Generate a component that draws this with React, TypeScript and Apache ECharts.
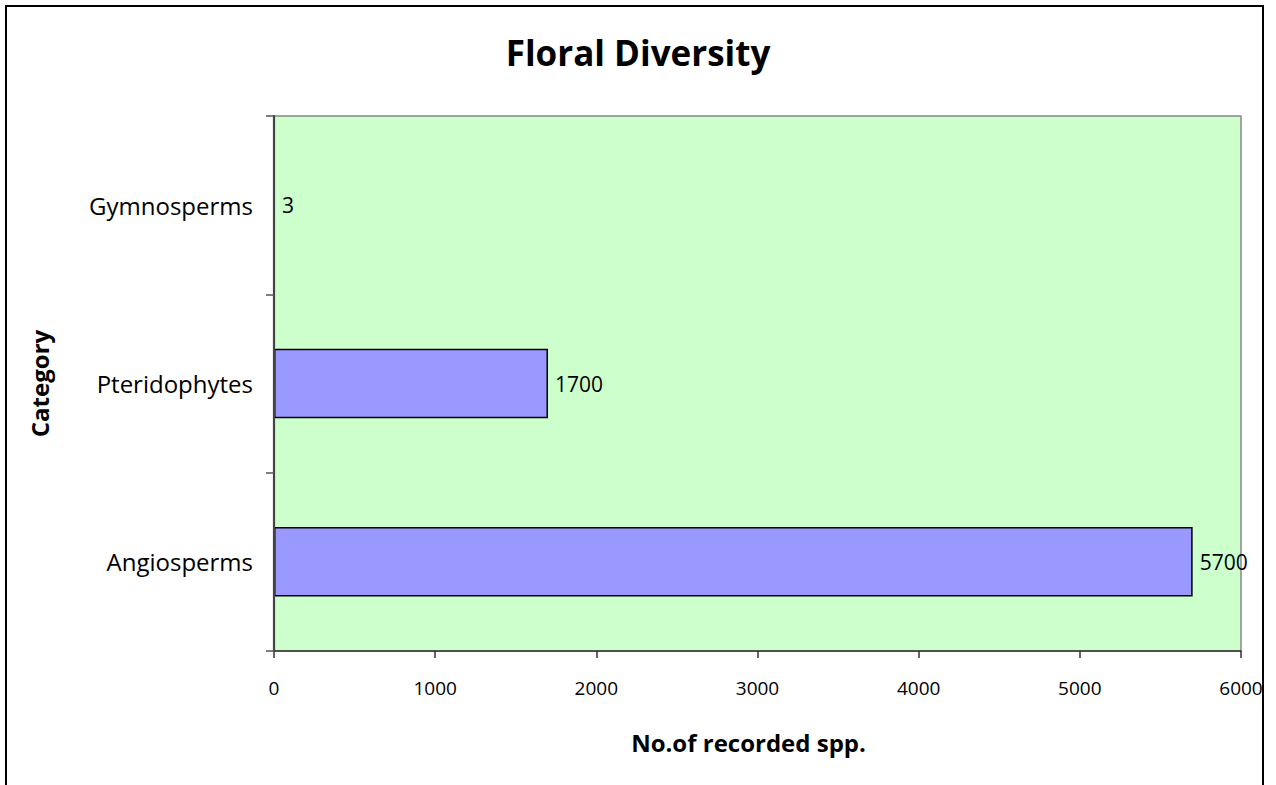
import React, { useEffect, useRef } from "react";
import * as echarts from "echarts";

// Recorded species counts per plant group (bottom to top on the category axis)
const categories: string[] = ["Angiosperms", "Pteridophytes", "Gymnosperms"];
const speciesCounts: number[] = [5700, 1700, 3];

// Value axis range and step
const xMin = 0;
const xMax = 6000;
const xStep = 1000;

const FONT = "'Open Sans', 'DejaVu Sans', sans-serif";

export default function App() {
  const ref = useRef<HTMLDivElement | null>(null);

  useEffect(() => {
    if (!ref.current) return;
    const chart = echarts.init(ref.current, undefined, { renderer: "svg" });

    chart.setOption({
      animation: false,
      backgroundColor: "#ffffff",
      title: {
        text: "Floral Diversity",
        left: "center",
        top: 30,
        textStyle: {
          fontFamily: FONT,
          fontSize: 35,
          fontWeight: "bold",
          color: "#000000",
        },
      },
      graphic: [
        {
          type: "rect",
          shape: { x: 6, y: 6, width: 1257, height: 820 },
          style: { fill: "none", stroke: "#000000", lineWidth: 2 },
          silent: true,
        },
      ],
      grid: {
        left: 274,
        right: 35,
        top: 116,
        bottom: 134,
        show: true,
        backgroundColor: "#CCFFCC",
        borderColor: "#888888",
        borderWidth: 1.5,
      },
      xAxis: {
        type: "value",
        min: xMin,
        max: xMax,
        interval: xStep,
        name: "No.of recorded spp.",
        nameLocation: "middle",
        nameGap: 79,
        nameTextStyle: {
          fontFamily: FONT,
          fontSize: 24,
          fontWeight: "bold",
          color: "#000000",
          padding: [0, 18, 0, 0],
        },
        splitLine: { show: false },
        axisLine: { show: true, lineStyle: { color: "#333333", width: 1.5 } },
        axisTick: { show: true, length: 7, lineStyle: { color: "#333333", width: 1.5 } },
        axisLabel: {
          fontFamily: FONT,
          fontSize: 19,
          color: "#000000",
          margin: 27,
          formatter: (v: number) => String(v),
        },
      },
      yAxis: {
        type: "category",
        data: categories,
        z: 3,
        name: "Category",
        nameLocation: "middle",
        nameRotate: 90,
        nameGap: 223,
        nameTextStyle: {
          fontFamily: FONT,
          fontSize: 24,
          fontWeight: "bold",
          color: "#000000",
        },
        axisLine: { show: true, lineStyle: { color: "#444444", width: 2.2 } },
        axisTick: { show: true, length: 8, lineStyle: { color: "#555555", width: 1.5 } },
        axisLabel: {
          fontFamily: FONT,
          fontSize: 24,
          color: "#000000",
          margin: 21,
        },
        splitLine: { show: false },
      },
      series: [
        {
          type: "bar",
          data: speciesCounts,
          barWidth: "39%",
          itemStyle: {
            color: "#9999FF",
            borderColor: "#000000",
            borderWidth: 1.5,
          },
          label: {
            show: true,
            position: "right",
            distance: 7,
            fontFamily: FONT,
            fontSize: 21,
            color: "#000000",
          },
        },
      ],
    });

    return () => {
      chart.dispose();
    };
  }, []);

  return (
    <div
      ref={ref}
      style={{ position: "absolute", left: 0, top: 0, width: 1276, height: 785 }}
    />
  );
}
